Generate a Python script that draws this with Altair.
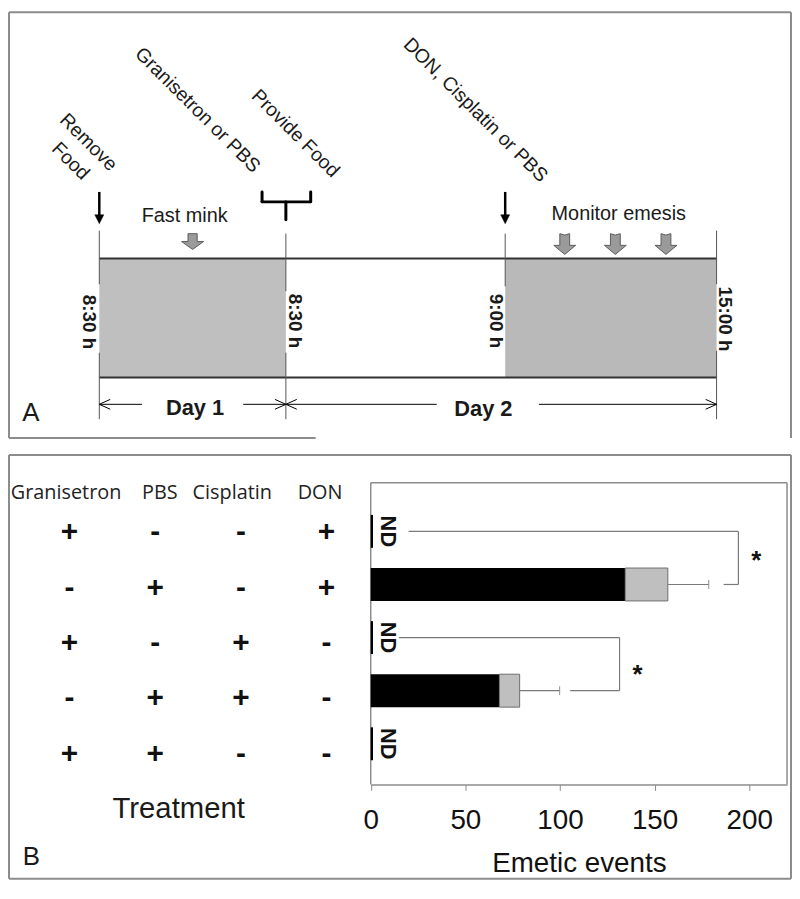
import altair as alt
import pandas as pd

# ---------------- data: panel B ----------------
treatments = ["Granisetron", "PBS", "Cisplatin", "DON"]
rows = ["r1", "r2", "r3", "r4", "r5"]
granisetron = ["+", "-", "+", "-", "+"]
pbs = ["-", "+", "-", "+", "+"]
cisplatin = ["-", "-", "+", "+", "-"]
don = ["+", "+", "-", "-", "-"]
dark_events = [0, 134.5, 0, 68.0, 0]
light_events = [0, 22.5, 0, 10.7, 0]
sem_events = [0, 21.6, 0, 21.1, 0]
not_detected = [True, False, True, False, True]
x_ticks = [0, 50, 100, 150, 200]
sig_rows = [("r1", "r2"), ("r3", "r4")]
sig_x = [(20.0, 194.3, 186.5), (14.9, 131.5, 105.4)]  # start, vertical, end (events units)
sig_star_x = [203.7, 141.0]

# ---------------- labels: panel A ----------------
diag_labels = ["Remove", "Food", "Granisetron or PBS", "Provide Food", "DON, Cisplatin or PBS"]
time_labels = ["8:30 h", "8:30 h", "9:00 h", "15:00 h"]
day_labels = ["Day 1", "Day 2"]
stage_labels = ["Fast mink", "Monitor emesis"]
panel_letters = ["A", "B"]

# ---------------- layout (canvas, reference pixels) ----------------
FONT = "Liberation Sans"
CX = alt.Scale(domain=[8, 798], range=[0, 790])
CY = alt.Scale(domain=[8, 883], range=[0, 875])
XE = alt.Scale(domain=[0, 220], range=[365.5, 785])
YB = alt.Scale(type="band", domain=rows, range=[480.7, 781.4], paddingInner=0.38, paddingOuter=0.5)
YT = alt.Scale(type="point", domain=rows, range=[525, 748], padding=0)
XT = alt.Scale(type="point", domain=treatments, range=[62, 321], padding=0)


def cxy():
    return dict(x=alt.X("x:Q", scale=CX, axis=None), y=alt.Y("y:Q", scale=CY, axis=None))


def seg_layer(segs, color, width, cap="butt"):
    df = pd.DataFrame(segs, columns=["x", "y", "x2", "y2"])
    return alt.Chart(df).mark_rule(color=color, strokeWidth=width, strokeCap=cap).encode(
        x2="x2:Q", y2="y2:Q", **cxy())


def text_layer(items, size, weight="normal", font=FONT, angle=0, color="#1a1a1a"):
    df = pd.DataFrame(items, columns=["t", "x", "y"])
    return alt.Chart(df).mark_text(fontSize=size, fontWeight=weight, font=font, angle=angle,
                                   color=color, align="center", baseline="middle").encode(
        text="t:N", **cxy())


def shape_layer(pts, shape, size, fill, stroke, sw=1.0, filled=True):
    df = pd.DataFrame(pts, columns=["x", "y"])
    kw = dict(shape=shape, size=size, strokeWidth=sw, opacity=1, filled=filled, stroke=stroke)
    if filled:
        kw["fill"] = fill
    return alt.Chart(df).mark_point(**kw).encode(**cxy())


def rect_layer(boxes, fill):
    df = pd.DataFrame(boxes, columns=["x", "y", "x2", "y2"])
    return alt.Chart(df).mark_rect(fill=fill).encode(x2="x2:Q", y2="y2:Q", **cxy())


layers = []
# panel frames
layers.append(seg_layer([(9, 9, 797, 9), (9, 9, 9, 438), (797, 9, 797, 438), (9, 438, 318, 438),
                         (9, 455, 797, 455), (9, 455, 9, 882), (797, 455, 797, 882), (9, 882, 797, 882)],
                        "#8c8c8c", 2))
# timeline boxes
layers.append(rect_layer([(100, 257, 288, 377)], "#bfbfbf"))
layers.append(rect_layer([(509, 257, 722, 377)], "#b9b9b9"))
layers.append(seg_layer([(100, 257, 722, 257), (100, 377, 722, 377)], "#333333", 2))
layers.append(seg_layer([(100, 229, 100, 283), (100, 352, 100, 419), (288, 232, 288, 290), (288, 352, 288, 419),
                         (509, 232, 509, 285), (722, 229, 722, 283), (722, 350, 722, 419)], "#555555", 1))
# black arrows and bracket
layers.append(seg_layer([(100, 190, 100, 214), (509, 190, 509, 214)], "#000000", 2.5))
layers.append(shape_layer([(100, 217.5), (509, 217.5)], "M-1,-1 L1,-1 L0,1 Z", 81, "#000000", "#000000", 0.5))
layers.append(seg_layer([(264, 190, 264, 200), (264, 200, 313, 200), (313, 190, 313, 200), (288, 200, 288, 218)],
                        "#000000", 3, "round"))
# day arrows
layers.append(seg_layer([(100, 404, 143, 404), (245, 404, 288, 404), (288, 404, 440, 404), (543, 404, 722, 404)],
                        "#000000", 1))
layers.append(shape_layer([(100, 404), (288, 404)], "M1,-0.45 L0,0 L1,0.45", 484, None, "#000000", 1, False))
layers.append(shape_layer([(288, 404), (722, 404)], "M-1,-0.45 L0,0 L-1,0.45", 484, None, "#000000", 1, False))
# gray block arrows
layers.append(shape_layer([(194, 240)], "M-0.42,-0.72 L0.42,-0.72 L0.42,0 L1,0 L0,0.72 L-1,0 L-0.42,0 Z",
                          484, "#9a9a9a", "#5c5c5c", 1))
layers.append(shape_layer([(569, 242.5), (620, 242.5), (671, 242.5)],
                          "M-0.45,-0.95 L0,-0.82 L0.45,-0.95 L0.45,0.12 L1,0.12 L0,0.95 L-1,0.12 L-0.45,0.12 Z",
                          484, "#9a9a9a", "#5c5c5c", 1))
# panel A texts
layers.append(text_layer([(diag_labels[0], 89, 140), (diag_labels[1], 71, 159), (diag_labels[2], 199, 107.5),
                          (diag_labels[3], 297.5, 131), (diag_labels[4], 479, 107.5)], 19.5, angle=45))
layers.append(text_layer([(stage_labels[0], 186, 214.5), (stage_labels[1], 623.5, 212)], 20))
layers.append(text_layer([(time_labels[0], 89.5, 321), (time_labels[1], 297.5, 320), (time_labels[2], 499.5, 320),
                          (time_labels[3], 730, 318)], 19, weight="bold", angle=90))
layers.append(text_layer([(day_labels[0], 196.5, 408), (day_labels[1], 487, 409)], 22, weight="bold"))
layers.append(text_layer([(panel_letters[0], 31, 412.5), (panel_letters[1], 31.5, 860)], 26))
layers.append(text_layer([("Treatment", 180, 812)], 29.5))
layers.append(text_layer([(treatments[0], 66.5, 493), (treatments[1], 161, 493), (treatments[2], 234, 493),
                          (treatments[3], 322.5, 493)], 20, font="Open Sans", color="#222222"))

# treatment table signs
sign_df = pd.DataFrame([{"row": r, "col": c, "s": s}
                        for c, col in zip(treatments, [granisetron, pbs, cisplatin, don])
                        for r, s in zip(rows, col)])
layers.append(alt.Chart(sign_df).mark_text(fontSize=30, fontWeight="bold", font=FONT, baseline="middle",
                                           color="#111111").encode(
    x=alt.X("col:N", scale=XT, axis=None, sort=treatments),
    y=alt.Y("row:N", scale=YT, axis=None, sort=rows),
    text="s:N"))

# bar chart frame
layers.append(seg_layer([(373.5, 483, 793, 483), (793, 483, 793, 787), (373.5, 483, 373.5, 787)], "#8c8c8c", 1.5))

bars = pd.DataFrame({"row": rows, "dark": dark_events, "light": light_events, "sem": sem_events,
                     "nd": not_detected})
bars["zero"] = 0.0
bars["total"] = bars["dark"] + bars["light"]
bars["end"] = bars["total"] + bars["sem"]
bars["ndw"] = 1.2
measured = bars[~bars["nd"]]
nd_rows = bars[bars["nd"]]

yb = alt.Y("row:N", scale=YB, axis=None, sort=rows)
axis = alt.Axis(values=x_ticks, title="Emetic events", orient="bottom", grid=False, domain=True,
                domainColor="#8c8c8c", domainWidth=1.5, ticks=True, tickColor="#8c8c8c", tickSize=6,
                tickWidth=1, labelFont=FONT, labelFontSize=28, labelColor="#111111", labelPadding=16,
                labelFlush=False, titleFont=FONT, titleFontSize=28, titleFontWeight="normal",
                titleColor="#111111", titlePadding=16, format="d")

layers.append(alt.Chart(measured).mark_bar(color="#000000").encode(
    x=alt.X("zero:Q", scale=XE, axis=axis), x2="dark:Q", y=yb))
layers.append(alt.Chart(measured).mark_bar(color="#bfbfbf", stroke="#6e6e6e", strokeWidth=1).encode(
    x=alt.X("dark:Q", scale=XE, axis=None), x2="total:Q", y=yb))
layers.append(alt.Chart(measured).mark_rule(color="#7a7a7a", strokeWidth=1.2).encode(
    x=alt.X("total:Q", scale=XE, axis=None), x2="end:Q", y=yb))
layers.append(alt.Chart(measured).mark_tick(color="#7a7a7a", thickness=1.2, size=9).encode(
    x=alt.X("end:Q", scale=XE, axis=None), y=yb))
layers.append(alt.Chart(nd_rows).mark_bar(color="#000000").encode(
    x=alt.X("zero:Q", scale=XE, axis=None), x2="ndw:Q", y=yb))
layers.append(alt.Chart(nd_rows).mark_text(text="ND", angle=90, dy=-17, fontSize=22, fontWeight="bold",
                                           font=FONT, color="#111111").encode(
    x=alt.X("zero:Q", scale=XE, axis=None), y=yb))

# significance brackets
sig = pd.DataFrame([{"a": a, "b": b, "xs": s, "xv": v, "xe": e, "xs_star": st}
                    for (a, b), (s, v, e), st in zip(sig_rows, sig_x, sig_star_x)])
layers.append(alt.Chart(sig).mark_rule(color="#7a7a7a", strokeWidth=1.2).encode(
    x=alt.X("xs:Q", scale=XE, axis=None), x2="xv:Q", y=alt.Y("a:N", scale=YB, axis=None)))
layers.append(alt.Chart(sig).mark_rule(color="#7a7a7a", strokeWidth=1.2).encode(
    x=alt.X("xe:Q", scale=XE, axis=None), x2="xv:Q", y=alt.Y("b:N", scale=YB, axis=None)))
layers.append(alt.Chart(sig).mark_rule(color="#7a7a7a", strokeWidth=1.2).encode(
    x=alt.X("xv:Q", scale=XE, axis=None), y=alt.Y("a:N", scale=YB, axis=None), y2="b:N"))
layers.append(alt.Chart(sig.iloc[[0]]).mark_text(text="*", fontSize=26, fontWeight="bold", font=FONT,
                                                 dy=30, color="#111111").encode(
    x=alt.X("xs_star:Q", scale=XE, axis=None), y=alt.Y("a:N", scale=YB, axis=None)))
layers.append(alt.Chart(sig.iloc[[1]]).mark_text(text="*", fontSize=26, fontWeight="bold", font=FONT,
                                                 dy=38, color="#111111").encode(
    x=alt.X("xs_star:Q", scale=XE, axis=None), y=alt.Y("a:N", scale=YB, axis=None)))

chart = alt.layer(*layers).resolve_scale(x="independent", y="independent").properties(
    width=785, height=779,
    padding={"left": 0, "top": 0, "right": 5, "bottom": 96},
    autosize=alt.AutoSizeParams(type="none"),
    background="white",
).configure_view(stroke=None)

chart.save("out.html", embed_options={"renderer": "svg", "actions": False})
